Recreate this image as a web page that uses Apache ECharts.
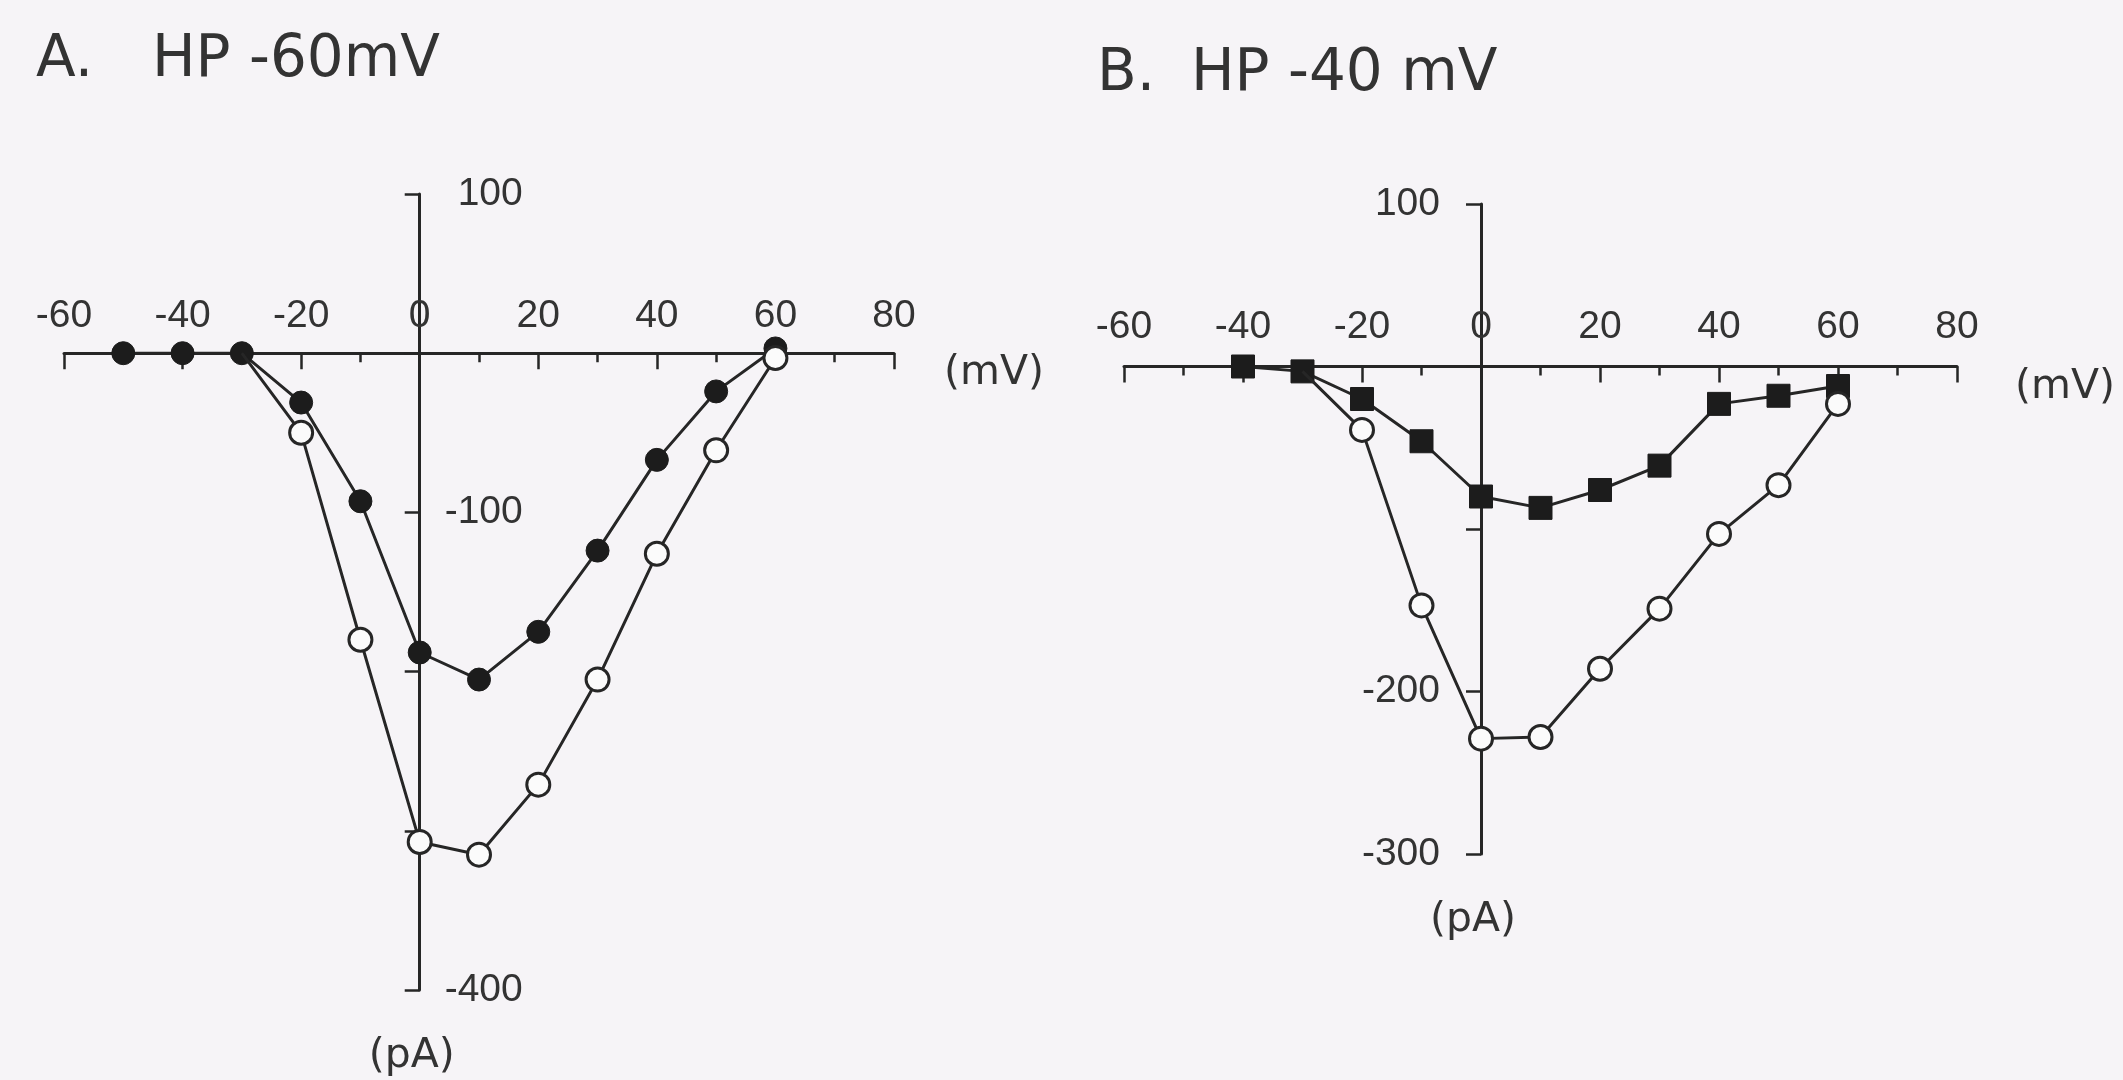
<!DOCTYPE html>
<html>
<head>
<meta charset="utf-8">
<script src="https://cdn.jsdelivr.net/npm/echarts@6/dist/echarts.min.js"></script>
<style>
  html, body { margin: 0; padding: 0; background: #f6f4f7; }
  #chart { width: 2123px; height: 1080px; }
</style>
</head>
<body>
<div id="chart"></div>
<script>
// Membrane potential (mV) and peak current (pA), holding potential -60 mV
const voltFilledA = [-50, -40, -30, -20, -10, 0, 10, 20, 30, 40, 50, 60];
const currFilledA = [0, 0, 0, -31, -93, -188, -205, -175, -124, -67, -24, 3];
const voltOpenA = [-30, -20, -10, 0, 10, 20, 30, 40, 50, 60];
const currOpenA = [0, -50, -180, -307, -315, -271, -205, -126, -61, -3];

// Holding potential -40 mV
const voltFilledB = [-40, -30, -20, -10, 0, 10, 20, 30, 40, 50, 60];
const currFilledB = [0, -3, -20, -46, -80, -87, -76, -61, -23, -18, -12];
const voltOpenB = [-30, -20, -10, 0, 10, 20, 30, 40, 50, 60];
const currOpenB = [-3, -39, -147, -229, -228, -186, -149, -103, -73, -23];

// Axis ranges and labelled ticks
const xRange = [-60, 80];
const yRangeA = [-400, 100];
const yRangeB = [-300, 100];
const yLabelsA = [100, -100, -400];
const yLabelsB = [100, -200, -300];

const titlesA = ['A.', 'HP -60mV'];
const titlesB = ['B.', 'HP -40 mV'];
const xName = '(mV)';
const yName = '(pA)';

const FONT = '"Liberation Sans", Arial, Helvetica, sans-serif';
const WIDE_FONT = '"DejaVu Sans", "Liberation Sans", sans-serif';
const INK = '#262626';
const TEXT = '#333333';
const TICK_FONT = 39;
const NAME_FONT = 41;

const gridA = { left: 64, top: 194, width: 830, height: 796 };
const gridB = { left: 1124, top: 204, width: 833, height: 650 };

const pairs = (xs, ys) => xs.map((x, i) => [x, ys[i]]);

function xAxisFor(gridIndex, labelMargin, nameGap) {
  return {
    type: 'value', gridIndex: gridIndex, position: 'top',
    min: xRange[0], max: xRange[1], interval: 20,
    axisLine: { show: true, onZero: false, lineStyle: { color: INK, width: 3 } },
    axisTick: { show: true, inside: true, length: 16, lineStyle: { color: INK, width: 2.5 } },
    minorTick: { show: true, splitNumber: 2, length: 9, lineStyle: { color: INK, width: 2.5 } },
    axisLabel: { margin: labelMargin, color: TEXT, fontSize: TICK_FONT, fontFamily: FONT },
    splitLine: { show: false },
    name: xName, nameLocation: 'end', nameGap: nameGap,
    nameTextStyle: { color: TEXT, fontSize: NAME_FONT, fontFamily: WIDE_FONT, verticalAlign: 'top' }
  };
}

function yAxisFor(gridIndex, range, shown, position, inside, labelMargin, nameGap) {
  return {
    type: 'value', gridIndex: gridIndex, position: position,
    min: range[0], max: range[1], interval: 100,
    axisLine: { show: true, onZero: false, lineStyle: { color: INK, width: 3 } },
    axisTick: { show: true, inside: inside, length: 15, lineStyle: { color: INK, width: 2.5 } },
    axisLabel: {
      margin: labelMargin, align: 'right', color: TEXT, fontSize: TICK_FONT, fontFamily: FONT,
      formatter: v => (shown.indexOf(v) >= 0 ? String(v) : '')
    },
    splitLine: { show: false },
    name: yName, nameLocation: 'start', nameGap: nameGap,
    nameTextStyle: { color: TEXT, fontSize: NAME_FONT, fontFamily: WIDE_FONT, padding: [0, 16, 0, 0] }
  };
}

function filledSeries(idx, xs, ys, symbol) {
  return {
    type: 'line', xAxisIndex: idx, yAxisIndex: idx, data: pairs(xs, ys),
    symbol: symbol, symbolSize: 23, showAllSymbol: true,
    lineStyle: { color: INK, width: 3 },
    itemStyle: { color: '#1c1c1c', borderColor: '#1c1c1c', borderWidth: 1 },
    z: 2
  };
}

// The open curve branches off the filled curve's first shared point, so that point carries no marker
function openSeries(idx, xs, ys) {
  return {
    type: 'line', xAxisIndex: idx, yAxisIndex: idx, data: pairs(xs, ys),
    symbol: (val, params) => (params.dataIndex === 0 ? 'none' : 'circle'),
    symbolSize: 23, showAllSymbol: true,
    lineStyle: { color: INK, width: 3 },
    itemStyle: { color: '#fbfbfb', borderColor: INK, borderWidth: 3 },
    z: 3
  };
}

function titleText(left, top, text) {
  return { type: 'text', left: left, top: top,
    style: { text: text, fill: TEXT, font: '58px ' + WIDE_FONT } };
}

const chart = echarts.init(document.getElementById('chart'), null, { renderer: 'canvas' });
chart.setOption({
  animation: false,
  backgroundColor: '#f6f4f7',
  grid: [
    Object.assign({ containLabel: false }, gridA),
    Object.assign({ containLabel: false }, gridB)
  ],
  xAxis: [
    xAxisFor(0, 17, 50),
    xAxisFor(1, 20, 58)
  ],
  yAxis: [
    yAxisFor(0, yRangeA, yLabelsA, 'right', true, 103, 46),
    yAxisFor(1, yRangeB, yLabelsB, 'left', false, 41, 46)
  ],
  series: [
    filledSeries(0, voltFilledA, currFilledA, 'circle'),
    openSeries(0, voltOpenA, currOpenA),
    filledSeries(1, voltFilledB, currFilledB, 'rect'),
    openSeries(1, voltOpenB, currOpenB)
  ],
  graphic: [
    titleText(36, 32, titlesA[0]),
    titleText(152, 32, titlesA[1]),
    titleText(1097, 46, titlesB[0]),
    titleText(1191, 46, titlesB[1])
  ]
});

// Move each pair of axes so they cross at the origin, labels travelling with the lines
const zA = chart.convertToPixel({ gridIndex: 0 }, [0, 0]);
const zB = chart.convertToPixel({ gridIndex: 1 }, [0, 0]);
chart.setOption({
  xAxis: [
    { offset: gridA.top - zA[1] },
    { offset: gridB.top - zB[1] }
  ],
  yAxis: [
    { offset: zA[0] - (gridA.left + gridA.width) },
    { offset: gridB.left - zB[0] }
  ]
});
</script>
</body>
</html>
